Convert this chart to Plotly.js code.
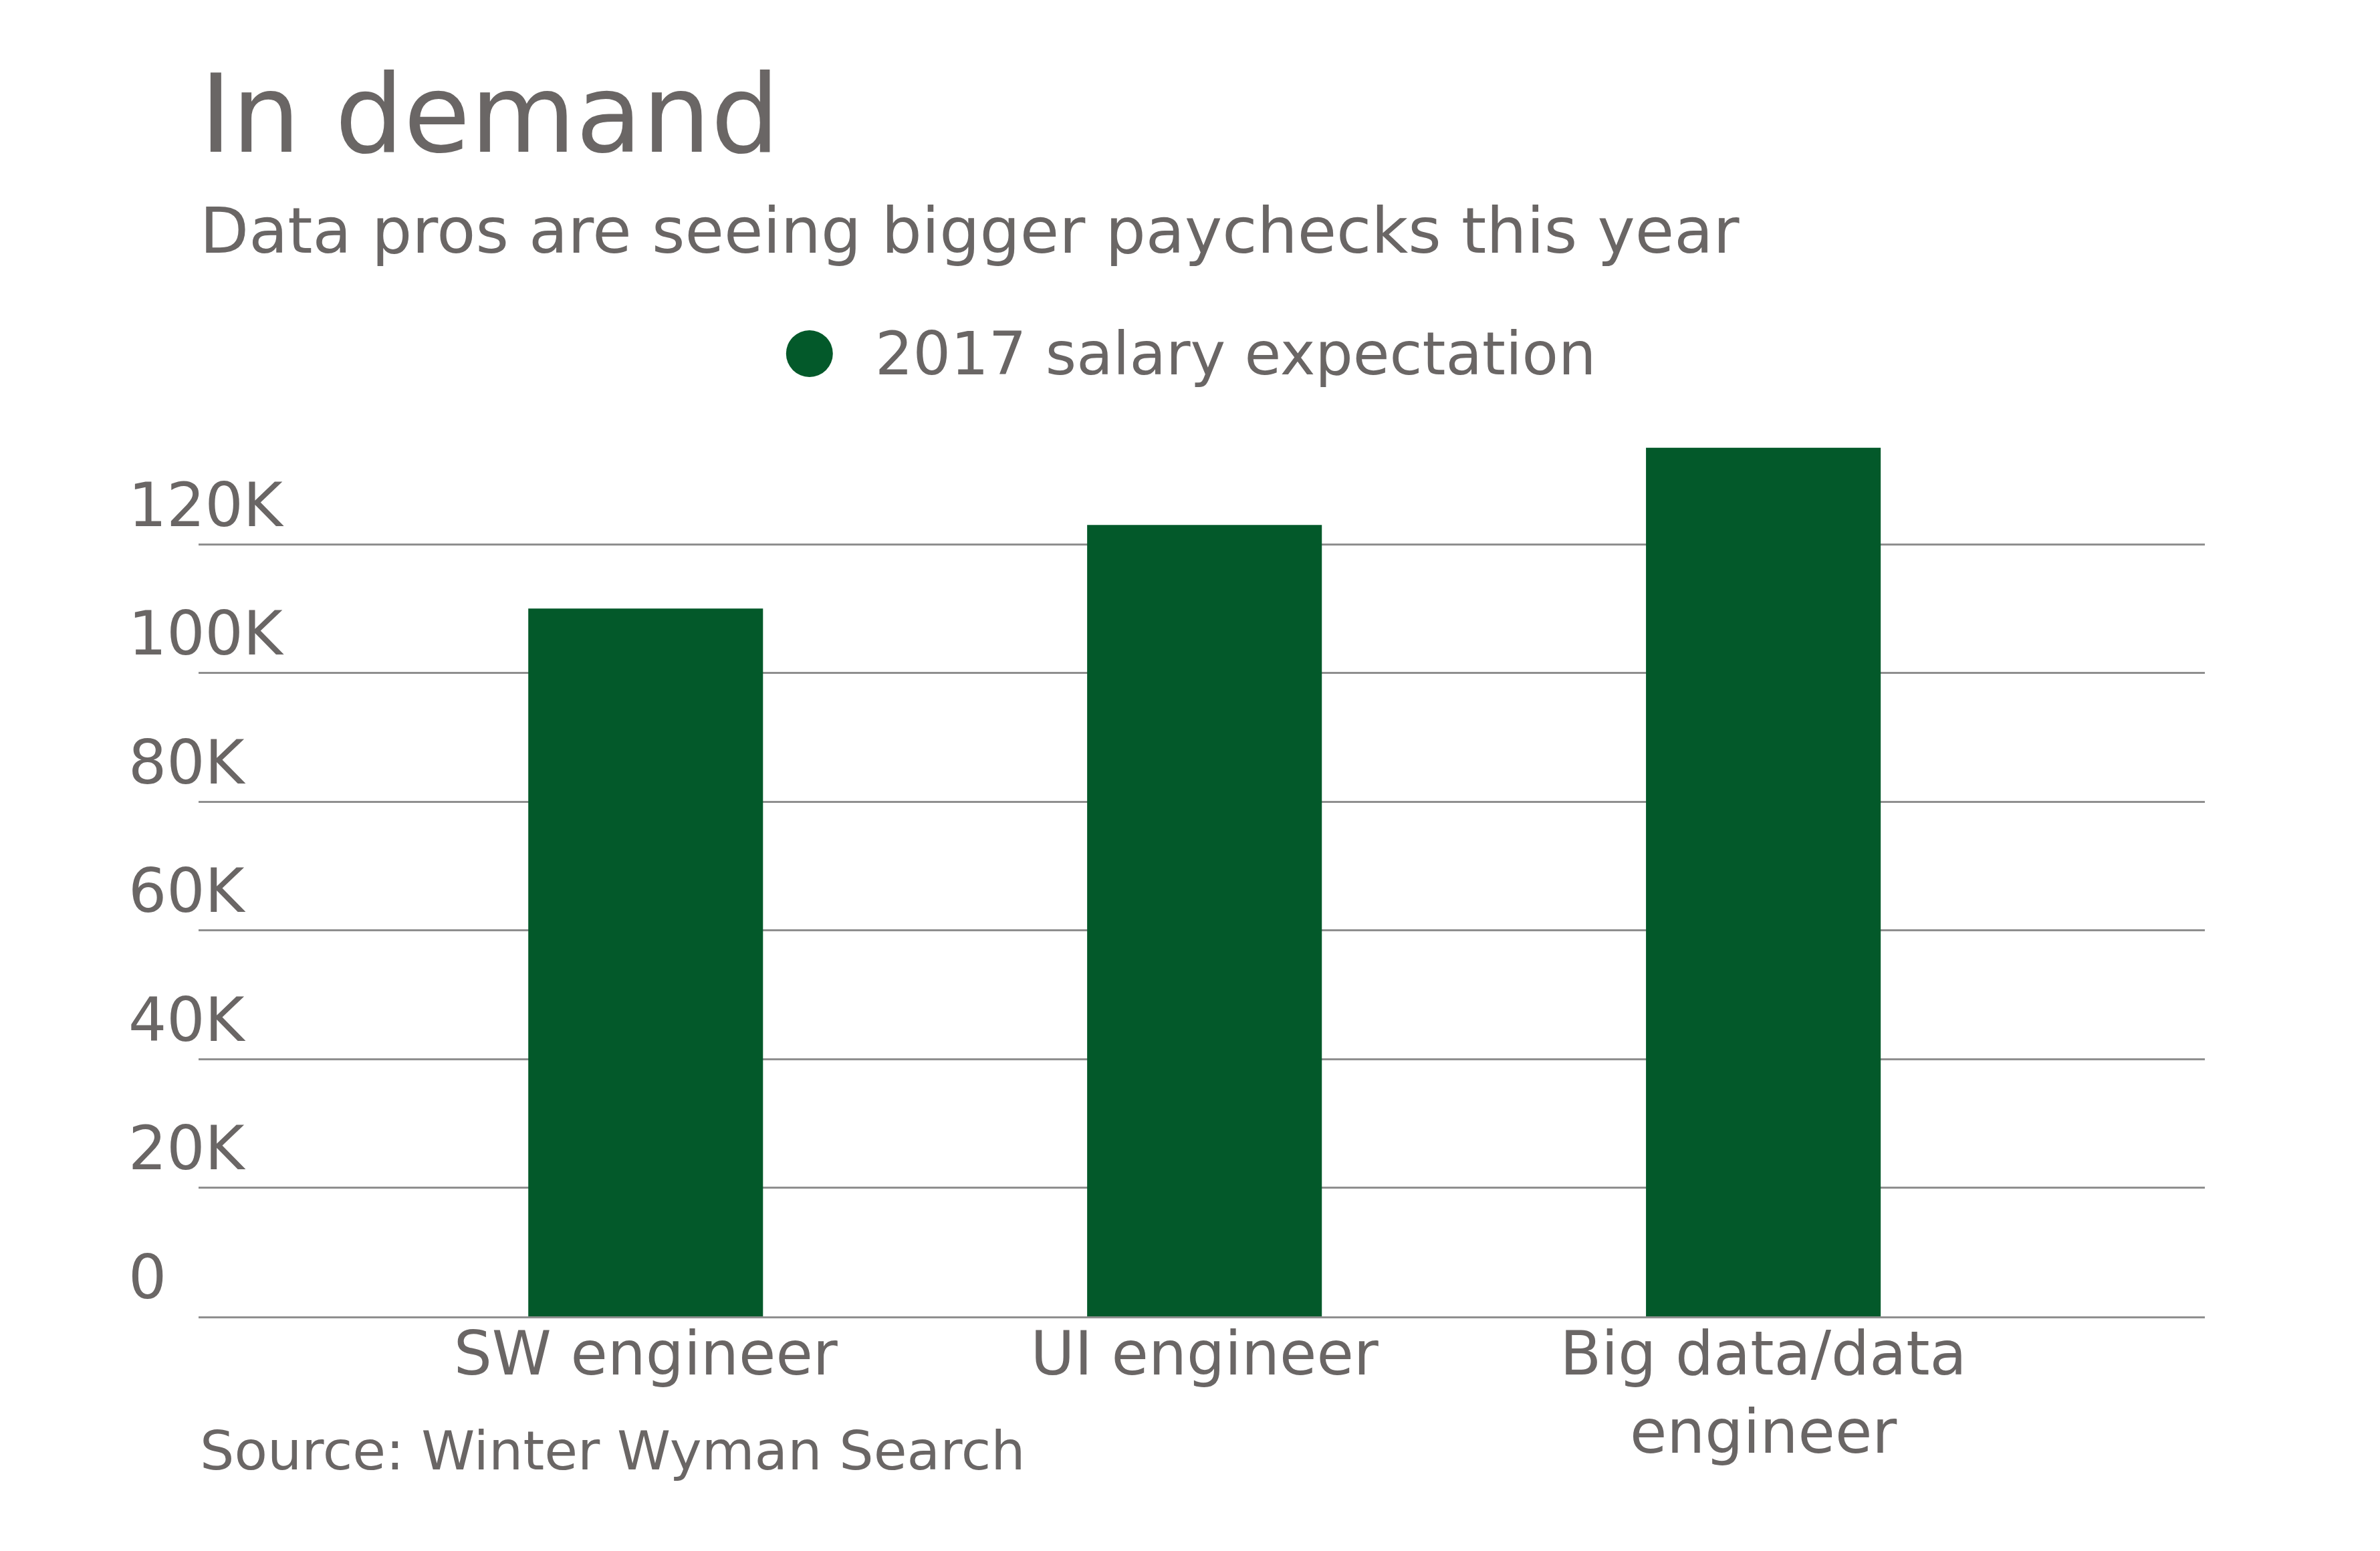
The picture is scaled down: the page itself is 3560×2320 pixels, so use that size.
<!DOCTYPE html>
<html>
<head>
<meta charset="utf-8">
<script src="https://cdn.plot.ly/plotly-3.0.1.min.js"></script>
<style>
  html, body { margin: 0; padding: 0; background: #ffffff; }
  #chart { width: 3560px; height: 2320px; }
</style>
</head>
<body>
<div id="chart"></div>
<script>
// data
var categories = ['SW engineer', 'UI engineer', 'Big data/data<br>engineer'];
var salary2017 = [110000, 123000, 135000];
var seriesName = '2017 salary expectation';
var yTickVals = [0, 20000, 40000, 60000, 80000, 100000, 120000];
var yTickText = ['0', '20K', '40K', '60K', '80K', '100K', '120K'];

var textGrey = '#6a6665';
var gridGrey = '#8f8f8f';
var barGreen = '#03592a';
var fontName = 'DejaVu Sans, Verdana, sans-serif';

function makeBarChart(divElement) {
  var plotDiv = document.getElementById(divElement);
  var trace = [{
    x: categories, y: salary2017, name: seriesName, type: 'bar', width: 0.42,
    marker: { color: barGreen }, showlegend: false, hoverinfo: 'x+y'
  }];
  var conf = { responsive: false, displayModeBar: false, staticPlot: true };
  var layout = {
    width: 3560, height: 2320,
    margin: { l: 297, r: 262, t: 660, b: 351, pad: 0 },
    paper_bgcolor: '#ffffff', plot_bgcolor: '#ffffff',
    font: { family: fontName, color: textGrey, size: 90 },
    showlegend: false,
    xaxis: {
      type: 'category', range: [-0.8, 2.79], fixedrange: true,
      showgrid: false, zeroline: false, ticks: '',
      showline: true, linecolor: gridGrey, linewidth: 3,
      tickfont: { size: 90, color: textGrey }, ticklabelstandoff: -24
    },
    yaxis: {
      range: [0, 136000], fixedrange: true,
      tickvals: yTickVals, ticktext: yTickText,
      showgrid: true, gridcolor: gridGrey, gridwidth: 3,
      zeroline: false, showline: false, ticks: '',
      ticklabelposition: 'inside', ticklabeloverflow: 'allow',
      ticklabelstandoff: -108, ticklabelshift: -59,
      tickfont: { size: 90, color: textGrey }
    },
    shapes: [{
      type: 'circle', xref: 'paper', yref: 'paper',
      xsizemode: 'pixel', ysizemode: 'pixel',
      xanchor: 0.3045, yanchor: 1.1001,
      x0: -35, x1: 35, y0: -35, y1: 35,
      fillcolor: barGreen, line: { width: 0 }
    }],
    annotations: [
      { text: 'In demand', xref: 'paper', yref: 'paper', x: 0, y: 1.3736,
        xanchor: 'left', yanchor: 'middle', showarrow: false,
        font: { size: 162, color: textGrey } },
      { text: 'Data pros are seeing bigger paychecks this year', xref: 'paper', yref: 'paper',
        x: 0, y: 1.2406, xanchor: 'left', yanchor: 'middle', showarrow: false,
        font: { size: 95, color: textGrey } },
      { text: seriesName, xref: 'paper', yref: 'paper', x: 0.3366, y: 1.1001,
        xanchor: 'left', yanchor: 'middle', showarrow: false,
        font: { size: 89, color: textGrey } },
      { text: 'Source: Winter Wyman Search', xref: 'paper', yref: 'paper',
        x: 0, y: -0.1536, xanchor: 'left', yanchor: 'middle', showarrow: false,
        font: { size: 81, color: textGrey } }
    ]
  };
  Plotly.newPlot(plotDiv, trace, layout, conf);
}

makeBarChart('chart');
</script>
</body>
</html>
